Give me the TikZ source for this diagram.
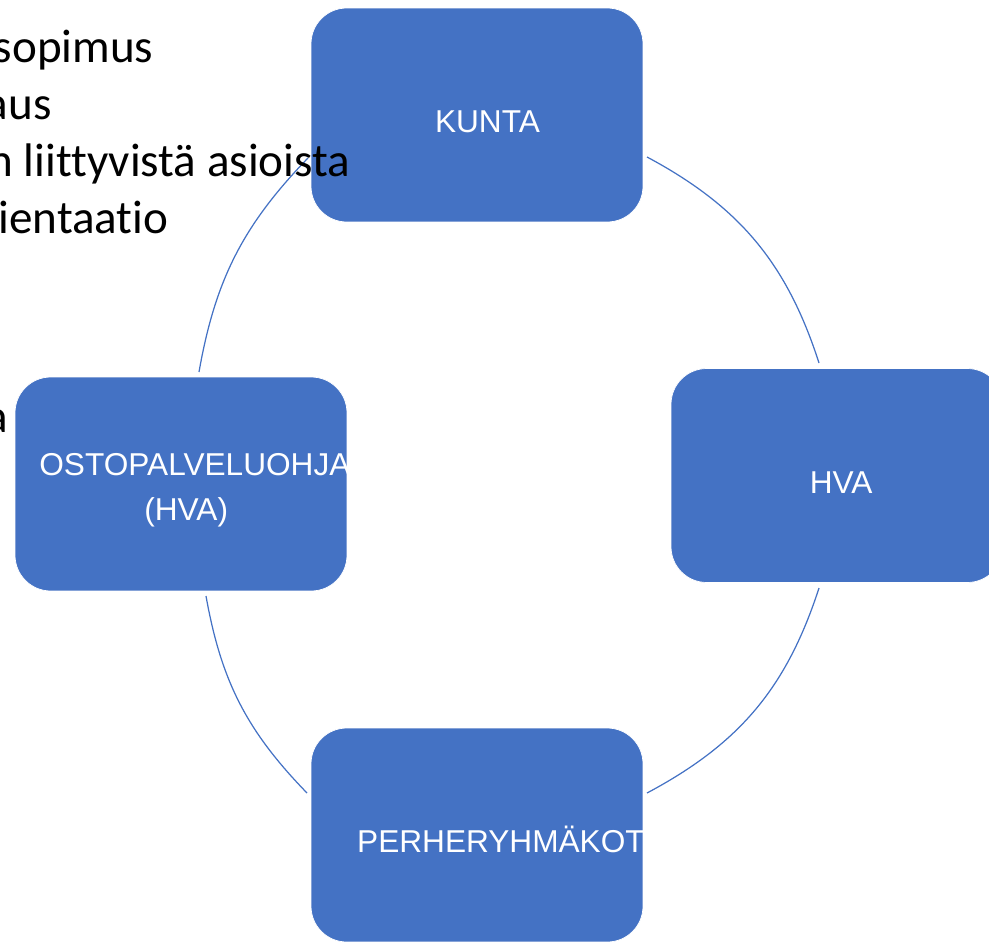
\documentclass[tikz,border=0pt]{standalone}
\usepackage{fontspec}
\setmainfont{Carlito}[Ligatures=NoCommon]
\newfontfamily\boxfont{Liberation Sans}
\definecolor{cycleblue}{HTML}{4472C4}

\begin{document}
\begin{tikzpicture}[x=0.02cm,y=0.02cm,
  box/.style={draw=white,line width=0.4pt,fill=cycleblue,rounded corners=0.714cm,
    minimum width=6.64cm,minimum height=4.28cm,inner sep=0pt},
  boxtext/.style={anchor=base west,inner sep=0pt,text=white,
    font=\boxfont\fontsize{18}{21.6}\selectfont},
  arcline/.style={cycleblue,line width=0.7pt},
  listtext/.style={anchor=base east,inner sep=0pt,font=\fontsize{26.8}{32}\selectfont}]
\useasboundingbox (0,0) rectangle (989,941);
\clip (0,0) rectangle (989,941);

% Arc ends
\coordinate (kunta-hva1) at (647,784);
\coordinate (kunta-hva2) at (819,578);
\coordinate (hva-perhe1) at (819,353);
\coordinate (hva-perhe2) at (647,148);
\coordinate (perhe-osto1) at (307,148);
\coordinate (perhe-osto2) at (206,345);
\coordinate (osto-kunta1) at (199,569);
\coordinate (osto-kunta2) at (308,783);

% Cycle arcs
\draw[arcline] (kunta-hva1) to[bend left=22] (kunta-hva2);
\draw[arcline] (hva-perhe1) to[bend left=22] (hva-perhe2);
\draw[arcline] (perhe-osto1) to[bend left=17] (perhe-osto2);
\draw[arcline] (osto-kunta1) to[bend left=17] (osto-kunta2);

% Boxes
\node[box] (kunta) at (477,826) {};
\node[box] (hva) at (837,465.5) {};
\node[box] (osto) at (181,457) {};
\node[box] (perhe) at (477,106) {};

% Box texts, cut at the box edge
\begin{scope}
  \clip[rounded corners=0.714cm] (kunta.south west) rectangle (kunta.north east);
  \node[boxtext] (kunta-text) at (434.7,808.3) {KUNTA};
\end{scope}
\begin{scope}
  \clip[rounded corners=0.714cm] (hva.south west) rectangle (hva.north east);
  \node[boxtext] (hva-text) at (809.5,447.8) {HVA};
\end{scope}
\begin{scope}
  \clip[rounded corners=0.714cm] (osto.south west) rectangle (osto.north east);
  \node[boxtext] (osto-text1) at (39,466) {OSTOPALVELUOHJA};
  \node[boxtext] (osto-text2) at (144,420.3) {(HVA)};
\end{scope}
\begin{scope}
  \clip[rounded corners=0.714cm] (perhe.south west) rectangle (perhe.north east);
  \node[boxtext] (perhe-text) at (356.8,88.3) {PERHERYHMÄKOTI};
\end{scope}

% List on the left
\node[listtext] (rivi1) at (153.7,878) {sopimus};
\node[listtext] (rivi2) at (52,821) {aus};
\node[listtext] (rivi3) at (350.6,764.3) {n liittyvistä asioista};
\node[listtext] (rivi4) at (168.7,707.7) {ientaatio};
\node[listtext] (rivi5) at (8.8,509) {a};
\end{tikzpicture}
\end{document}
